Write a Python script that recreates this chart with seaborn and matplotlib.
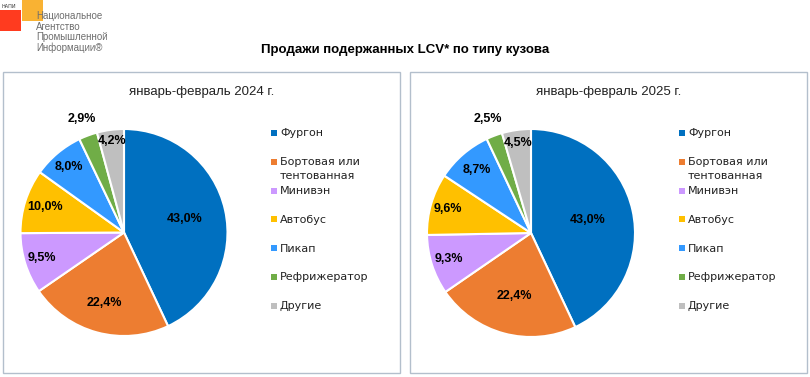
import numpy as np
import matplotlib
matplotlib.use("Agg")
import matplotlib.pyplot as plt
from matplotlib.patches import Rectangle
import seaborn as sns

# data
categories = ["Фургон", "Бортовая или\nтентованная", "Минивэн", "Автобус",
              "Пикап", "Рефрижератор", "Другие"]
shares_2024 = [43.0, 22.4, 9.5, 10.0, 8.0, 2.9, 4.2]
shares_2025 = [43.0, 22.4, 9.3, 9.6, 8.7, 2.5, 4.5]
panel_titles = ["январь-февраль 2024 г.", "январь-февраль 2025 г."]
main_title = "Продажи подержанных LCV* по типу кузова"
colors = ["#0070C0", "#ED7D31", "#CC99FF", "#FFC000", "#3399FF", "#70AD47", "#BFBFBF"]

# radial position of each percent label (fraction of radius)
label_r_2024 = [0.60, 0.71, 0.83, 0.80, 0.83, 1.17, 0.89]
label_r_2025 = [0.56, 0.63, 0.83, 0.83, 0.80, 1.17, 0.87]

sns.set_theme(style="white")
plt.rcParams["font.family"] = ["DejaVu Sans"]
narrow = ["Liberation Sans Narrow", "Liberation Sans", "DejaVu Sans"]

W, H = 810, 377
fig = plt.figure(figsize=(W / 100, H / 100), dpi=100)
fig.patch.set_facecolor("white")


def fx(x):
    return x / W


def fy(y):
    return 1 - y / H


def fmt(v):
    return f"{v:.1f}%".replace(".", ",")


# logo
fig.patches.append(Rectangle((fx(0), fy(31)), 21 / W, 21 / H, transform=fig.transFigure,
                             facecolor="#FF3B1F", edgecolor="none"))
fig.patches.append(Rectangle((fx(22), fy(21)), 21 / W, 21 / H, transform=fig.transFigure,
                             facecolor="#F9B233", edgecolor="none"))
fig.text(fx(2), fy(7), "НАПИ", fontsize=3.5, color="#333333", va="center")
for i, line in enumerate(["Национальное", "Агентство", "Промышленной", "Информации®"]):
    fig.text(fx(36), fy(16 + i * 10.5), line, fontsize=7, color="#6E6E6E", va="center",
             family=narrow)

fig.text(0.5, fy(50), main_title, ha="center", va="center", fontsize=9.5,
         fontweight="bold", family="Liberation Sans", color="black")

panels = [
    dict(left=3, right=400, cx=124, cy=232.5, r=103.5, leg_x=271, vals=shares_2024,
         lr=label_r_2024, title=panel_titles[0]),
    dict(left=410, right=807, cx=531, cy=233, r=104, leg_x=679, vals=shares_2025,
         lr=label_r_2025, title=panel_titles[1]),
]

top, bottom = 72, 373
for p in panels:
    fig.patches.append(Rectangle((fx(p["left"]), fy(bottom)), (p["right"] - p["left"]) / W,
                                 (bottom - top) / H, transform=fig.transFigure,
                                 facecolor="none", edgecolor="#B3BFCC", linewidth=1))
    fig.text(fx((p["left"] + p["right"]) / 2), fy(92), p["title"], ha="center", va="center",
             fontsize=9.5, family="Liberation Sans", color="#222222")

    r = p["r"]
    ax = fig.add_axes([fx(p["cx"] - r), fy(p["cy"] + r), 2 * r / W, 2 * r / H])
    wedges, _ = ax.pie(p["vals"], colors=colors, startangle=90, counterclock=False,
                       wedgeprops=dict(edgecolor="white", linewidth=1.5))
    ax.set_xlim(-1, 1)
    ax.set_ylim(-1, 1)
    ax.set_aspect("equal")
    ax.axis("off")
    for w, v, rr in zip(wedges, p["vals"], p["lr"]):
        ang = np.deg2rad((w.theta1 + w.theta2) / 2)
        ax.text(rr * np.cos(ang), rr * np.sin(ang), fmt(v), ha="center", va="center",
                fontsize=9, fontweight="bold", family=narrow, color="black")

    # legend
    for i, (cat, col) in enumerate(zip(categories, colors)):
        y = 133 + i * 28.8
        fig.patches.append(Rectangle((fx(p["leg_x"]), fy(y + 3)), 6 / W, 6 / H,
                                     transform=fig.transFigure, facecolor=col,
                                     edgecolor="none"))
        fig.text(fx(p["leg_x"] + 9), fy(y - 4.5), cat, ha="left", va="top",
                 fontsize=8, color="#222222", linespacing=1.5)

fig.savefig("out.png", dpi=100, facecolor="white")
